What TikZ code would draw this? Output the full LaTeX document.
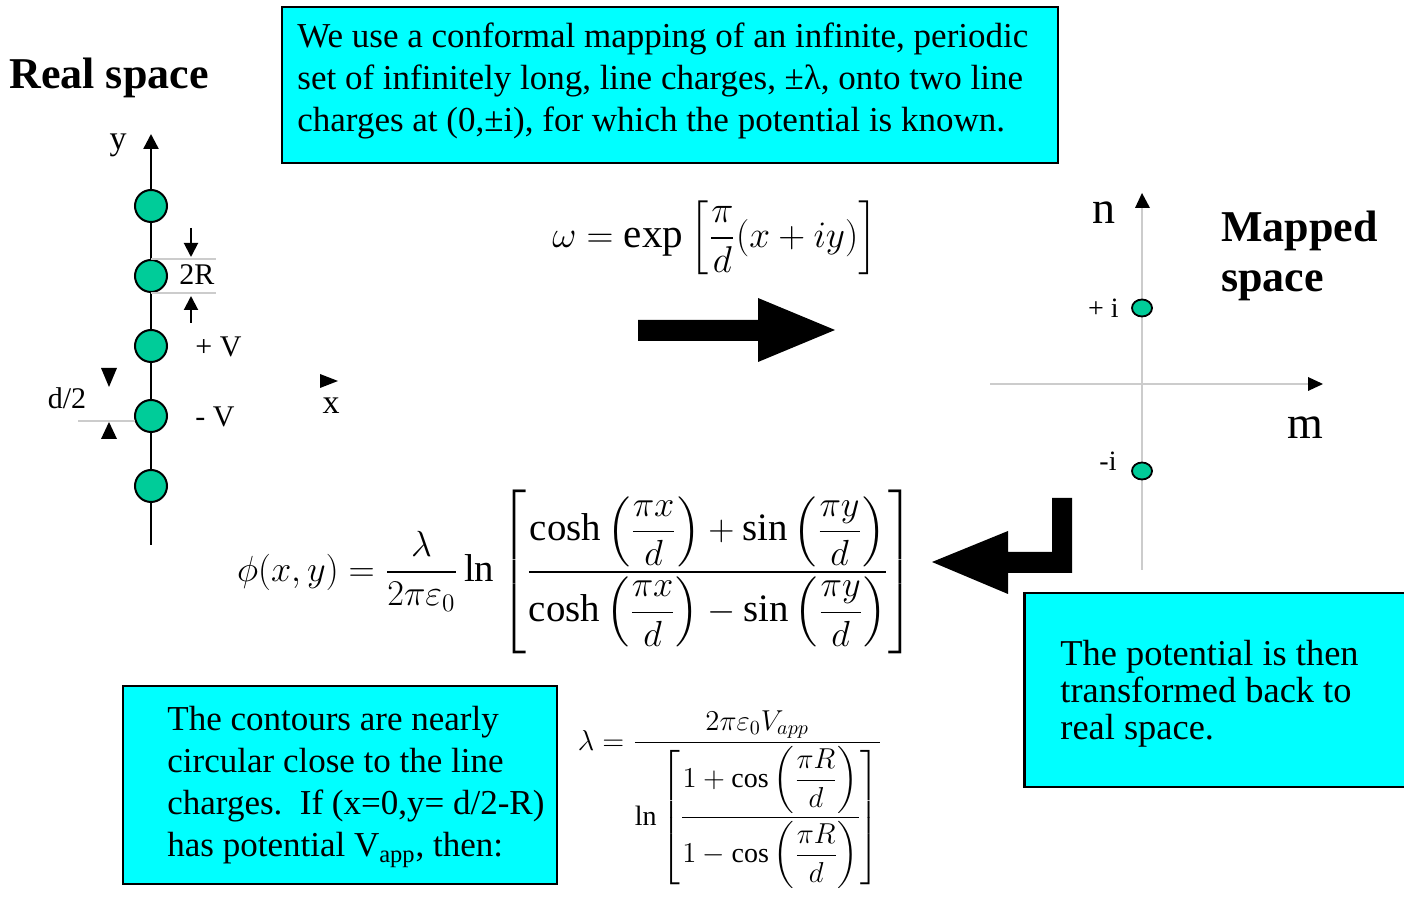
\documentclass[tikz,border=0pt]{standalone}
\usepackage{amsmath,amssymb}
\usepackage{graphicx}
\usepackage{fontspec}
\setmainfont{Liberation Serif}
\usepackage{tikz}
\usetikzlibrary{arrows.meta,shapes.geometric,positioning,calc}
\definecolor{chargefill}{HTML}{00CC99}
\definecolor{boxcyan}{HTML}{00FFFF}

\begin{document}
\begin{tikzpicture}[x=0.5pt,y=-0.5pt,
    infobox/.style={draw, line width=1.2pt, fill=boxcyan, inner sep=0pt},
    boxtext/.style={anchor=west, inner sep=0pt, align=left, font=\fontsize{17.5}{21}\selectfont},
    charge/.style={circle, draw, line width=1pt, fill=chargefill, minimum size=16pt, inner sep=0pt},
    imgcharge/.style={ellipse, draw, line width=0.9pt, fill=chargefill, minimum width=10pt, minimum height=8.5pt, inner sep=0pt},
    lbl/.style={inner sep=1pt, font=\fontsize{15}{18}\selectfont},
    title/.style={inner sep=0pt, align=left, font=\fontsize{22}{25}\selectfont\bfseries},
    guide/.style={gray!40, line width=0.6pt},
    axarr/.style={-{Triangle[length=7.5pt,width=7.5pt]}},
    dimarr/.style={line width=1pt, -{Triangle[length=7pt,width=7pt]}}
]
\useasboundingbox (0,0) rectangle (1404,913);

% real space
\node[title, anchor=west] (realtitle) at (9,78) {Real space};
\draw[line width=1.2pt, axarr] (151,545) -- (151,134);
\foreach \i/\yy in {1/206,2/276,3/346,4/416,5/486}
  \node[charge] (q\i) at (151,\yy) {};
\node[lbl, font=\fontsize{17}{20}\selectfont] (ylbl) at (118,145) {y};

\draw[guide] (q2.north) -- ++(65,0) coordinate (rtop);
\draw[guide] (q2.south) -- ++(65,0) coordinate (rbot);
\draw[dimarr] (191,228) -- (191,257);
\draw[dimarr] (191,323) -- (191,296);
\node[lbl] (twoR) at (197,275) {2R};
\node[lbl, anchor=west] (plusV) at (193,347) {+ V};
\node[lbl, anchor=west] (minusV) at (193,417) {- V};

\node[lbl] (halfd) at (67,398) {d/2};
\draw[guide] (78,421) -- (135,421);
\fill (101,368) -- (117,368) -- (109,387) -- cycle;
\fill (101,439) -- (117,439) -- (109,422) -- cycle;
\fill (320,374) -- (338,381) -- (320,388) -- cycle;
\node[lbl, font=\fontsize{17}{20}\selectfont] (xlbl) at (331,406) {x};

% explanation
\node[infobox, minimum width=388pt, minimum height=78pt] (mapbox) at (670,85) {};
\node[boxtext] (maptext) at (297,81)
  {We use a conformal mapping of an infinite, periodic\\
   set of infinitely long, line charges, ±λ, onto two line\\
   charges at (0,±i), for which the potential is known.};

\node (mapeq) at (715,238) {\scalebox{1.08}{\fontsize{19}{23}\selectfont $\omega = \exp\left[\dfrac{\pi}{d}(x+iy)\right]$}};
\fill (638,320) -- (758,320) -- (758,298) -- (835,330) -- (758,362) -- (758,341) -- (638,341) -- cycle;

% mapped space
\draw[guide] (1142,570) -- (1142,207);
\fill (1135,208) -- (1142,193) -- (1150,208) -- cycle;
\draw[guide] (990,384) -- (1309,384);
\fill (1308,377) -- (1323,384) -- (1308,391) -- cycle;
\node[imgcharge] (qp) at (1142,308) {};
\node[imgcharge] (qm) at (1142,471) {};
\node[lbl, font=\fontsize{14}{16}\selectfont, left=5pt of qp] (pluslbl) {+ i};
\node[lbl, font=\fontsize{14}{16}\selectfont] (minuslbl) at (1108,461) {-i};
\node[lbl, font=\fontsize{23}{26}\selectfont] (nlbl) at (1104,213) {n};
\node[lbl, font=\fontsize{23}{26}\selectfont] (mlbl) at (1305,428) {m};
\node[title, anchor=west] (maptitle) at (1221,256) {Mapped\\space};

% back to real space
\fill (1052,498) -- (1072,498) -- (1072,573) -- (1008,573) -- (1008,594) -- (932,562)
  -- (1008,531) -- (1008,552) -- (1052,552) -- cycle;
\node[infobox, minimum width=193pt, minimum height=97pt] (backbox) at (1217.5,690) {};
\node[boxtext, font=\fontsize{18.2}{18.5}\selectfont] (backtext) at (1060,694)
  {The potential is then\\transformed back to\\real space.};

\node (phieq) at (576,572) {\scalebox{1.05}{\fontsize{18.5}{22}\selectfont $\displaystyle
  \phi(x,y) = \frac{\lambda}{2\pi\varepsilon_0}\ln\left[\frac{\cosh\left(\dfrac{\pi x}{d}\right)+\sin\left(\dfrac{\pi y}{d}\right)}{\cosh\left(\dfrac{\pi x}{d}\right)-\sin\left(\dfrac{\pi y}{d}\right)}\right]$}};

% contours
\node[infobox, minimum width=217pt, minimum height=99pt] (vbox) at (340,785) {};
\node[boxtext] (vtext) at (167,787)
  {The contours are nearly\\
   circular close to the line\\
   charges.\ \ If (x=0,y= d/2-R)\\
   has potential V\textsubscript{app}, then:};

\node (lameq) at (730,800) {\fontsize{14}{17}\selectfont $\displaystyle
  \lambda = \frac{2\pi\varepsilon_0 V_{app}}{\ln\left[\dfrac{1+\cos\left(\dfrac{\pi R}{d}\right)}{1-\cos\left(\dfrac{\pi R}{d}\right)}\right]}$};
\end{tikzpicture}
\end{document}
